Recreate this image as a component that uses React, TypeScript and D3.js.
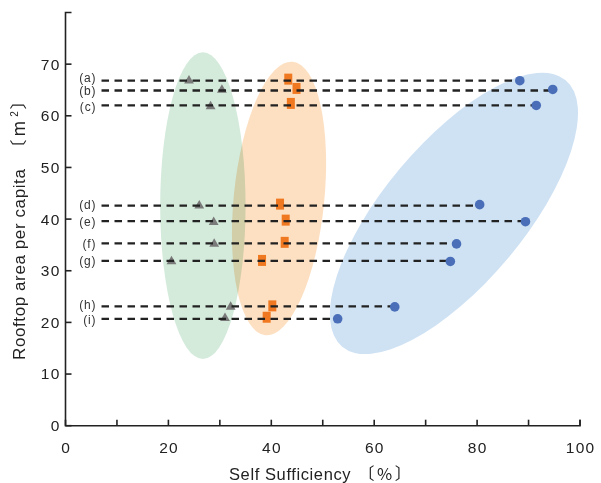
import React from 'react'
import * as d3 from 'd3'

// rows (a)..(i): rooftop area per capita [m2]
const rowLabels = ['(a)', '(b)', '(c)', '(d)', '(e)', '(f)', '(g)', '(h)', '(i)']
const rowArea = [66.8, 64.9, 62.0, 42.6, 39.6, 35.3, 31.9, 23.1, 20.7]

// self sufficiency [%] per series, same order as rows
const circleX = [88.3, 94.7, 91.5, 80.5, 89.4, 76.0, 74.8, 64.0, 52.9]
const circleY = [66.8, 65.1, 62.0, 42.8, 39.5, 35.2, 31.8, 23.0, 20.7]
const squareX = [43.3, 44.9, 43.8, 41.7, 42.8, 42.6, 38.2, 40.2, 39.1]
const squareY = [67.1, 65.3, 62.4, 42.9, 39.8, 35.5, 32.0, 23.2, 21.0]
const triX = [24.0, 30.4, 28.2, 26.0, 28.8, 28.9, 20.6, 32.1, 31.0]
const triY = [66.8, 65.0, 61.8, 42.6, 39.4, 35.2, 31.8, 23.0, 20.8]

const xTickLabels = [0, 20, 40, 60, 80, 100]
const xTicks = [0, 10, 20, 30, 40, 50, 60, 70, 80, 90, 100]
const yTicks = [0, 10, 20, 30, 40, 50, 60, 70]

// group ellipses: centre, radii in data units, rotation in degrees
const groups = [
  { cx: 26.7, cy: 42.6, rx: 8.3, ry: 29.7, rot: 0, color: '#d4ebdc' },
  { cx: 41.5, cy: 44.0, rx: 8.8, ry: 26.6, rot: 5.7, color: '#fde0c2' },
  { cx: 75.5, cy: 41.1, rx: 33.8, ry: 13.6, rot: -50, color: '#cfe2f4' },
]

const lineStart = 7
// small vertical nudges (px) so the tightly packed row labels don't collide
const labelNudge = [-2.5, 0.5, 1, -1, 0.5, 0, 0, -1.5, 1.5]

export default function App() {
  const width = 601,
    height = 483

  const x = d3.scaleLinear().domain([0, 100]).range([65.5, 580])
  const y = d3.scaleLinear().domain([0, 80]).range([425.7, 12.5])

  const tri = d3.symbol().type(d3.symbolTriangle).size(42)()
  const font = 'Liberation Sans, Arial, Helvetica, sans-serif'
  const cjk = "'Noto Sans CJK JP', sans-serif"

  return (
    <svg
      width={width}
      height={height}
      style={{ position: 'absolute', left: 0, top: 0, background: '#fff' }}
      fontFamily={font}
    >
      {/* ellipses */}
      <g style={{ isolation: 'isolate' }}>
        {groups.map((g, i) => (
          <ellipse
            key={i}
            cx={x(g.cx)}
            cy={y(g.cy)}
            rx={x(g.rx) - x(0)}
            ry={y(0) - y(g.ry)}
            fill={g.color}
            style={{ mixBlendMode: 'multiply' }}
            transform={`rotate(${g.rot}, ${x(g.cx)}, ${y(g.cy)})`}
          />
        ))}
      </g>

      {/* markers under lines */}
      {squareX.map((v, i) => (
        <rect key={'s' + i} x={x(v) - 4} y={y(squareY[i]) - 5.5} width={8} height={11} fill="#f07820" />
      ))}
      {triX.map((v, i) => (
        <path key={'t' + i} d={tri || ''} transform={`translate(${x(v)}, ${y(triY[i])})`} fill="#7a7a7a" />
      ))}

      {/* dashed rows */}
      {rowArea.map((v, i) => (
        <line
          key={'l' + i}
          x1={x(lineStart)}
          x2={x(circleX[i])}
          y1={y(v)}
          y2={y(v)}
          stroke="#222"
          strokeWidth={2.3}
          strokeDasharray="7.5,5.5"
        />
      ))}
      {rowArea.map((v, i) => (
        <text
          key={'r' + i}
          x={x(lineStart) - 5}
          y={y(v) + labelNudge[i]}
          dy="0.35em"
          textAnchor="end"
          fontSize={12}
          letterSpacing={0.9}
          fill="#333"
        >
          {rowLabels[i]}
        </text>
      ))}

      {circleX.map((v, i) => (
        <circle key={'c' + i} cx={x(v)} cy={y(circleY[i])} r={4.8} fill="#4a6fb8" />
      ))}

      {/* axes */}
      <g stroke="#222" strokeWidth={1.6} fill="none">
        <path d={`M${x(0) + 6},${y(80)}H${x(0)}V${y(0)}H${x(100)}V${y(0) - 6}`} />
        {yTicks.map((t) => (
          <line key={'yt' + t} x1={x(0)} x2={x(0) + 6} y1={y(t)} y2={y(t)} />
        ))}
        {xTicks.map((t) => (
          <line key={'xt' + t} x1={x(t)} x2={x(t)} y1={y(0)} y2={y(0) - 6} />
        ))}
      </g>
      {yTicks.map((t) => (
        <text key={'yl' + t} x={x(0) - 5} y={y(t)} dy="0.35em" textAnchor="end" fontSize={15.5} letterSpacing={1.2} fill="#222">
          {t}
        </text>
      ))}
      {xTickLabels.map((t) => (
        <text key={'xl' + t} x={x(t) + 0.6} y={453} textAnchor="middle" fontSize={15.5} letterSpacing={1.2} fill="#222">
          {t}
        </text>
      ))}

      <text x={229} y={479.5} fontSize={16.5} letterSpacing={0.6} fill="#222">
        Self Sufficiency
        <tspan fontFamily={cjk} dx={7} letterSpacing={2.5}>〔%〕</tspan>
      </text>
      <text transform="translate(25, 360) rotate(-90)" fontSize={17} letterSpacing={0.6} fill="#222">
        Rooftop area per capita
        <tspan fontFamily={cjk} dx={12} letterSpacing={3}>〔m</tspan>
        <tspan fontSize={10} dy={-7} dx={1}>2</tspan>
        <tspan fontFamily={cjk} dy={7} dx={1}>〕</tspan>
      </text>
    </svg>
  )
}
